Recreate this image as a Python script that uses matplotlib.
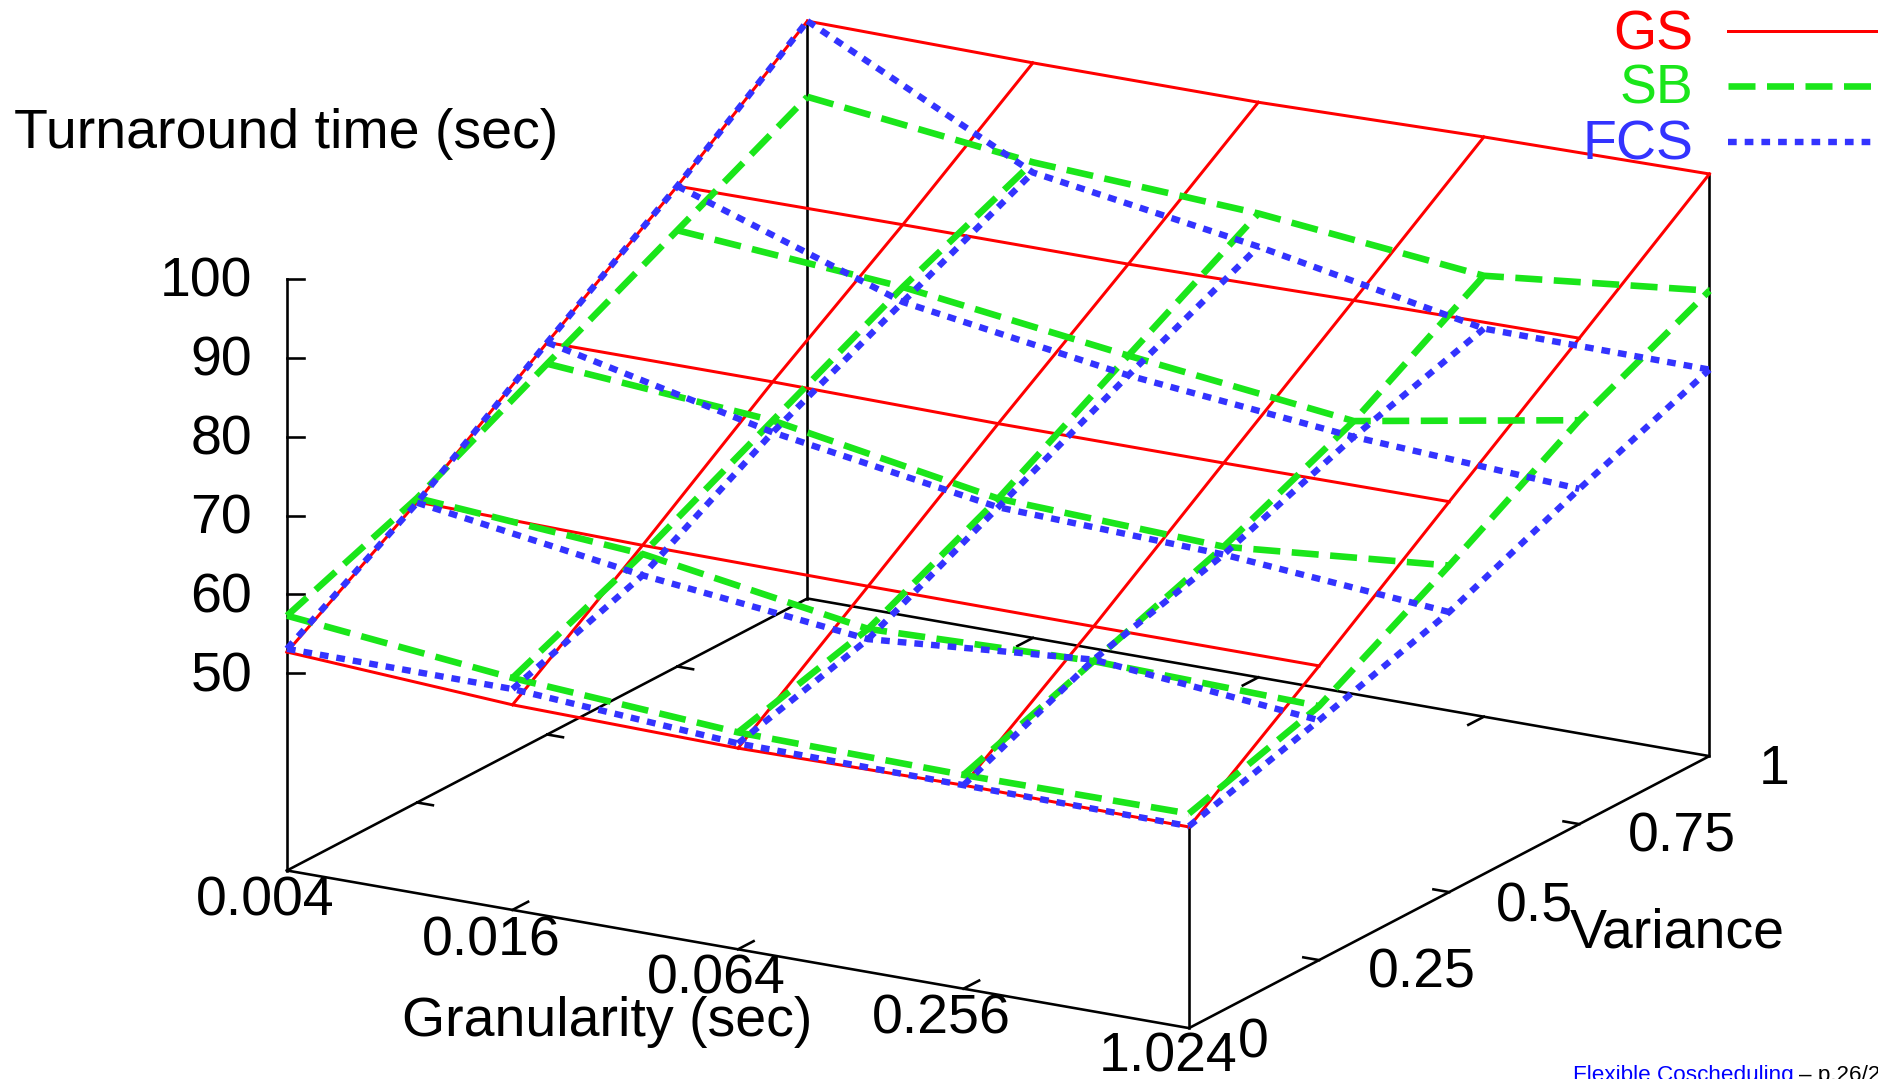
"""
Turnaround time of GS, SB and FCS over granularity and variance, drawn as
three wireframe surfaces in a fixed oblique view (parallel projection).
"""

import matplotlib
matplotlib.use("Agg")
import matplotlib.pyplot as plt
import numpy as np

GRANULARITY = ["0.004", "0.016", "0.064", "0.256", "1.024"]
VARIANCE = ["0", "0.25", "0.5", "0.75", "1"]
TIME_TICKS = [50, 60, 70, 80, 90, 100]
Z_MIN = 25
Z_MAX = 100

# rows: variance, columns: granularity
GS = [
    [52.7, 51.0, 50.5, 50.8, 50.5],
    [63.1, 62.6, 62.4, 62.3, 62.3],
    [74.7, 74.7, 74.4, 74.4, 74.5],
    [85.9, 86.0, 86.0, 86.4, 86.6],
    [98.2, 97.9, 97.9, 98.5, 98.8],
]
SB = [
    [57.3, 54.4, 52.5, 52.1, 52.2],
    [63.6, 61.5, 57.0, 57.9, 57.2],
    [72.0, 69.8, 64.9, 63.8, 66.4],
    [80.3, 78.1, 74.4, 71.1, 76.2],
    [88.6, 85.3, 83.8, 80.9, 84.0],
]
FCS = [
    [53.1, 53.0, 51.1, 50.8, 50.6],
    [63.0, 58.8, 55.7, 58.1, 55.4],
    [74.7, 68.3, 63.8, 62.8, 60.5],
    [85.9, 76.2, 71.9, 69.1, 67.5],
    [98.2, 84.0, 79.6, 74.2, 74.0],
]

RED = "#ff0000"
GREEN = "#1ae61a"
BLUE = "#3333ff"
PX = 0.72  # one pixel in points at dpi 100

STYLES = {
    "GS": dict(color=RED, lw=3.0 * PX, ls="-"),
    "SB": dict(color=GREEN, lw=6.6 * PX, ls=(0, (27 * PX, 11.5 * PX))),
    "FCS": dict(color=BLUE, lw=6.4 * PX, ls=(0, (8.7 * PX, 8 * PX))),
}

plt.rcParams["font.family"] = ["Liberation Sans", "DejaVu Sans"]
plt.rcParams["lines.scale_dashes"] = False
plt.rcParams["lines.dash_capstyle"] = "butt"
FONT = 40


def project(g, v, z):
    """g: granularity index 0-4, v: variance index 0-4, z: time."""
    g, v, z = np.asarray(g), np.asarray(v), np.asarray(z)
    x = 287.0 + 225.5 * g + 130.1 * v
    y = 870.5 + 39.4 * g - 68.0 * v - 7.888 * (z - Z_MIN)
    return x, y


def draw_box(ax):
    black = dict(color="black", lw=2.6 * PX, solid_capstyle="projecting")
    base_g = [0, 4, 4, 0, 0]
    base_v = [0, 0, 4, 4, 0]
    ax.plot(*project(base_g, base_v, [Z_MIN] * 5), **black)

    ax.plot(*project([0, 0], [0, 0], [Z_MIN, Z_MAX]), **black)
    ax.plot(*project([0, 0], [4, 4], [Z_MIN, GS[4][0]]), **black)
    ax.plot(*project([4, 4], [4, 4], [Z_MIN, GS[4][4]]), **black)
    ax.plot(*project([4, 4], [0, 0], [Z_MIN, GS[0][4]]), **black)

    for t in TIME_TICKS:
        x, y = project(0, 0, t)
        ax.plot([x, x + 17], [y, y], **black)

    for i in range(1, 4):
        ax.plot(*project([i, i], [0, 0.12], [Z_MIN, Z_MIN]), **black)
        ax.plot(*project([i, i], [4, 3.88], [Z_MIN, Z_MIN]), **black)
        ax.plot(*project([0, 0.07], [i, i], [Z_MIN, Z_MIN]), **black)
        ax.plot(*project([4, 3.93], [i, i], [Z_MIN, Z_MIN]), **black)


def draw_surface(ax, values, style):
    values = np.array(values)
    g = np.arange(values.shape[1])
    v = np.arange(values.shape[0])
    for j in v:
        ax.plot(*project(g, j, values[j]), **style)
    for i in g:
        ax.plot(*project(i, v, values[:, i]), **style)


def draw_text(ax):
    ax.text(14, 134, "Turnaround time (sec)", fontsize=FONT, ha="left", va="center")
    ax.text(607, 1022, "Granularity (sec)", fontsize=FONT, ha="center", va="center")
    ax.text(1677, 934, "Variance", fontsize=FONT, ha="center", va="center")

    for t in TIME_TICKS:
        _, y = project(0, 0, t)
        ax.text(252, y + 4, str(t), fontsize=FONT, ha="right", va="center")

    g_pos = [(265, 901), (491, 941), (716, 980), (941, 1020), (1168, 1058)]
    for label, (x, y) in zip(GRANULARITY, g_pos):
        ax.text(x, y, label, fontsize=FONT, ha="center", va="center")

    v_pos = [(1253, 1044), (1422, 974), (1535, 907), (1682, 838), (1774, 770)]
    for label, (x, y) in zip(VARIANCE, v_pos):
        ax.text(x, y, label, fontsize=FONT, ha="center", va="center")

    for name, y in zip(STYLES, [31, 86, 142]):
        style = STYLES[name]
        ax.text(1693, y + 4, name, fontsize=FONT, color=style["color"], ha="right", va="center")
        ax.plot([1728, 1878], [y, y], **style)

    ax.text(1573, 1081, "Flexible Coscheduling", fontsize=16.2, color="#0000ff",
            ha="left", va="baseline")
    ax.text(1799, 1081, "\u2013 p.26/2", fontsize=16.2, color="black", ha="left", va="baseline")


def main():
    fig = plt.figure(figsize=(18.78, 10.79), dpi=100)
    ax = fig.add_axes([0, 0, 1, 1])
    ax.set_xlim(0, 1878)
    ax.set_ylim(1079, 0)
    ax.axis("off")

    draw_box(ax)
    draw_surface(ax, GS, STYLES["GS"])
    draw_surface(ax, SB, STYLES["SB"])
    draw_surface(ax, FCS, STYLES["FCS"])
    draw_text(ax)

    fig.savefig("out.png", dpi=100)


if __name__ == "__main__":
    main()
